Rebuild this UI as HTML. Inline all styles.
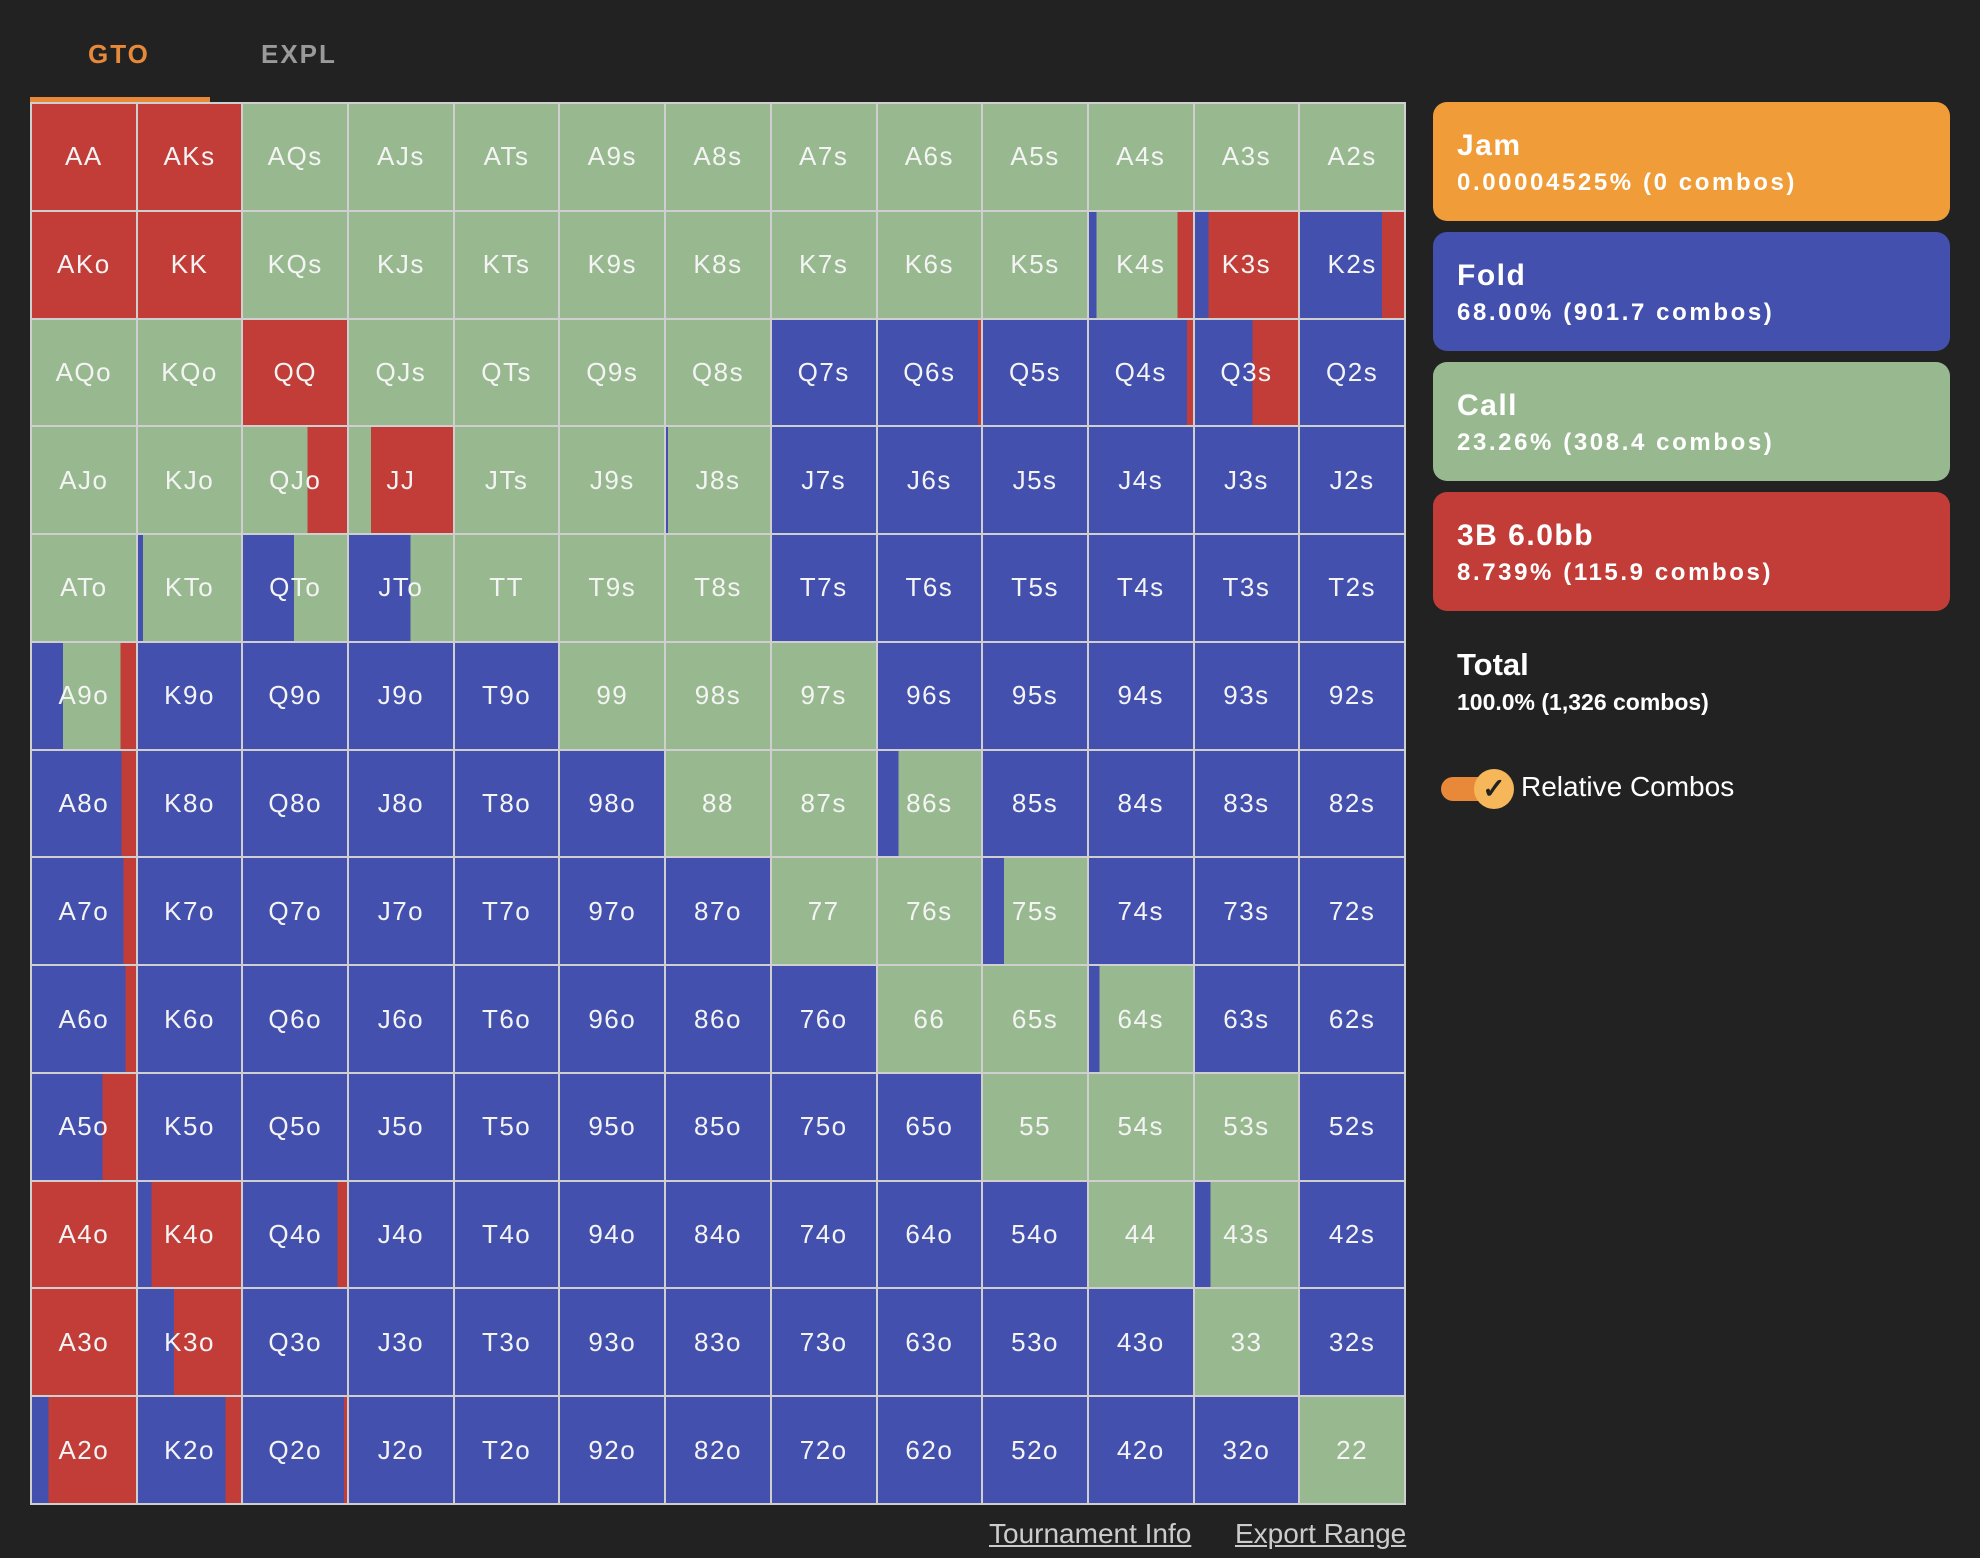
<!DOCTYPE html>
<html><head><meta charset="utf-8"><style>
body{margin:0;width:1980px;height:1558px;background:#222;overflow:hidden;font-family:"Liberation Sans",sans-serif;position:relative}
.tab{position:absolute;top:39px;font-size:26px;font-weight:bold;letter-spacing:2px}
#grid{position:absolute;left:30px;top:102px;width:1376px;height:1403px;background:#cfcfcf;box-sizing:border-box;padding:2px;display:grid;grid-template-columns:repeat(13,1fr);grid-template-rows:repeat(13,1fr);gap:2px}
#grid div{display:flex;align-items:center;justify-content:center;color:#f4f4f4;font-size:26px;letter-spacing:1.5px;font-weight:300}
.r{background:#c23d38}.g{background:#98b98f}.b{background:#4350ae}
.box{position:absolute;left:1433px;width:517px;height:119px;border-radius:14px;color:#fff;box-sizing:border-box;padding-left:24px}
.box .t{position:absolute;top:27px;font-size:30px;font-weight:bold;letter-spacing:1.5px}
.box .s{position:absolute;top:67px;font-size:24px;font-weight:bold;letter-spacing:2.6px}
.link{position:absolute;top:1518px;font-size:28px;color:#ccc;text-decoration:underline}
</style></head><body>
<div class="tab" style="left:88px;color:#e8893a">GTO</div>
<div class="tab" style="left:261px;color:#9a9a9a">EXPL</div>
<div style="position:absolute;left:30px;top:97px;width:180px;height:5px;background:#e8893a"></div>
<div id="grid">
<div class="r">AA</div><div class="r">AKs</div><div class="g">AQs</div><div class="g">AJs</div><div class="g">ATs</div><div class="g">A9s</div><div class="g">A8s</div><div class="g">A7s</div><div class="g">A6s</div><div class="g">A5s</div><div class="g">A4s</div><div class="g">A3s</div><div class="g">A2s</div>
<div class="r">AKo</div><div class="r">KK</div><div class="g">KQs</div><div class="g">KJs</div><div class="g">KTs</div><div class="g">K9s</div><div class="g">K8s</div><div class="g">K7s</div><div class="g">K6s</div><div class="g">K5s</div><div style="background:linear-gradient(90deg,#4350ae 0 7%,#98b98f 7% 85%,#c23d38 85%)">K4s</div><div style="background:linear-gradient(90deg,#4350ae 0 13%,#c23d38 13%)">K3s</div><div style="background:linear-gradient(90deg,#4350ae 0 79%,#c23d38 79%)">K2s</div>
<div class="g">AQo</div><div class="g">KQo</div><div class="r">QQ</div><div class="g">QJs</div><div class="g">QTs</div><div class="g">Q9s</div><div class="g">Q8s</div><div class="b">Q7s</div><div style="background:linear-gradient(90deg,#4350ae 0 97%,#c23d38 97%)">Q6s</div><div class="b">Q5s</div><div style="background:linear-gradient(90deg,#4350ae 0 94%,#c23d38 94%)">Q4s</div><div style="background:linear-gradient(90deg,#4350ae 0 56%,#c23d38 56%)">Q3s</div><div class="b">Q2s</div>
<div class="g">AJo</div><div class="g">KJo</div><div style="background:linear-gradient(90deg,#98b98f 0 62%,#c23d38 62%)">QJo</div><div style="background:linear-gradient(90deg,#98b98f 0 21%,#c23d38 21%)">JJ</div><div class="g">JTs</div><div class="g">J9s</div><div style="background:linear-gradient(90deg,#4350ae 0 2%,#98b98f 2%)">J8s</div><div class="b">J7s</div><div class="b">J6s</div><div class="b">J5s</div><div class="b">J4s</div><div class="b">J3s</div><div class="b">J2s</div>
<div class="g">ATo</div><div style="background:linear-gradient(90deg,#4350ae 0 5%,#98b98f 5%)">KTo</div><div style="background:linear-gradient(90deg,#4350ae 0 49%,#98b98f 49%)">QTo</div><div style="background:linear-gradient(90deg,#4350ae 0 59%,#98b98f 59%)">JTo</div><div class="g">TT</div><div class="g">T9s</div><div class="g">T8s</div><div class="b">T7s</div><div class="b">T6s</div><div class="b">T5s</div><div class="b">T4s</div><div class="b">T3s</div><div class="b">T2s</div>
<div style="background:linear-gradient(90deg,#4350ae 0 30%,#98b98f 30% 85%,#c23d38 85%)">A9o</div><div class="b">K9o</div><div class="b">Q9o</div><div class="b">J9o</div><div class="b">T9o</div><div class="g">99</div><div class="g">98s</div><div class="g">97s</div><div class="b">96s</div><div class="b">95s</div><div class="b">94s</div><div class="b">93s</div><div class="b">92s</div>
<div style="background:linear-gradient(90deg,#4350ae 0 86%,#c23d38 86%)">A8o</div><div class="b">K8o</div><div class="b">Q8o</div><div class="b">J8o</div><div class="b">T8o</div><div class="b">98o</div><div class="g">88</div><div class="g">87s</div><div style="background:linear-gradient(90deg,#4350ae 0 20%,#98b98f 20%)">86s</div><div class="b">85s</div><div class="b">84s</div><div class="b">83s</div><div class="b">82s</div>
<div style="background:linear-gradient(90deg,#4350ae 0 88%,#c23d38 88%)">A7o</div><div class="b">K7o</div><div class="b">Q7o</div><div class="b">J7o</div><div class="b">T7o</div><div class="b">97o</div><div class="b">87o</div><div class="g">77</div><div class="g">76s</div><div style="background:linear-gradient(90deg,#4350ae 0 20%,#98b98f 20%)">75s</div><div class="b">74s</div><div class="b">73s</div><div class="b">72s</div>
<div style="background:linear-gradient(90deg,#4350ae 0 90%,#c23d38 90%)">A6o</div><div class="b">K6o</div><div class="b">Q6o</div><div class="b">J6o</div><div class="b">T6o</div><div class="b">96o</div><div class="b">86o</div><div class="b">76o</div><div class="g">66</div><div class="g">65s</div><div style="background:linear-gradient(90deg,#4350ae 0 10%,#98b98f 10%)">64s</div><div class="b">63s</div><div class="b">62s</div>
<div style="background:linear-gradient(90deg,#4350ae 0 68%,#c23d38 68%)">A5o</div><div class="b">K5o</div><div class="b">Q5o</div><div class="b">J5o</div><div class="b">T5o</div><div class="b">95o</div><div class="b">85o</div><div class="b">75o</div><div class="b">65o</div><div class="g">55</div><div class="g">54s</div><div class="g">53s</div><div class="b">52s</div>
<div class="r">A4o</div><div style="background:linear-gradient(90deg,#4350ae 0 13%,#c23d38 13%)">K4o</div><div style="background:linear-gradient(90deg,#4350ae 0 91%,#c23d38 91%)">Q4o</div><div class="b">J4o</div><div class="b">T4o</div><div class="b">94o</div><div class="b">84o</div><div class="b">74o</div><div class="b">64o</div><div class="b">54o</div><div class="g">44</div><div style="background:linear-gradient(90deg,#4350ae 0 15%,#98b98f 15%)">43s</div><div class="b">42s</div>
<div class="r">A3o</div><div style="background:linear-gradient(90deg,#4350ae 0 35%,#c23d38 35%)">K3o</div><div class="b">Q3o</div><div class="b">J3o</div><div class="b">T3o</div><div class="b">93o</div><div class="b">83o</div><div class="b">73o</div><div class="b">63o</div><div class="b">53o</div><div class="b">43o</div><div class="g">33</div><div class="b">32s</div>
<div style="background:linear-gradient(90deg,#4350ae 0 16%,#c23d38 16%)">A2o</div><div style="background:linear-gradient(90deg,#4350ae 0 85%,#c23d38 85%)">K2o</div><div style="background:linear-gradient(90deg,#4350ae 0 97%,#c23d38 97%)">Q2o</div><div class="b">J2o</div><div class="b">T2o</div><div class="b">92o</div><div class="b">82o</div><div class="b">72o</div><div class="b">62o</div><div class="b">52o</div><div class="b">42o</div><div class="b">32o</div><div class="g">22</div>
</div>
<div class="box" style="top:102px;background:#f09c38"><div class="t">Jam</div><div class="s">0.00004525% (0 combos)</div></div>
<div class="box" style="top:232px;background:#4350ae"><div class="t">Fold</div><div class="s">68.00% (901.7 combos)</div></div>
<div class="box" style="top:362px;background:#98b98f"><div class="t">Call</div><div class="s">23.26% (308.4 combos)</div></div>
<div class="box" style="top:492px;background:#c23d38"><div class="t">3B 6.0bb</div><div class="s">8.739% (115.9 combos)</div></div>
<div style="position:absolute;left:1457px;top:647px;color:#fff;font-size:31px;font-weight:bold">Total</div>
<div style="position:absolute;left:1457px;top:689px;color:#fff;font-size:23px;font-weight:bold">100.0% (1,326 combos)</div>
<div style="position:absolute;left:1441px;top:777px;width:56px;height:24px;border-radius:12px;background:#e8893a"></div>
<div style="position:absolute;left:1474px;top:769px;width:40px;height:40px;border-radius:50%;background:#f5b75a;color:#222;font-size:28px;line-height:40px;text-align:center;font-weight:bold">✓</div>
<div style="position:absolute;left:1521px;top:771px;color:#fff;font-size:28px">Relative Combos</div>
<div class="link" style="left:989px">Tournament Info</div>
<div class="link" style="left:1235px">Export Range</div>
</body></html>
